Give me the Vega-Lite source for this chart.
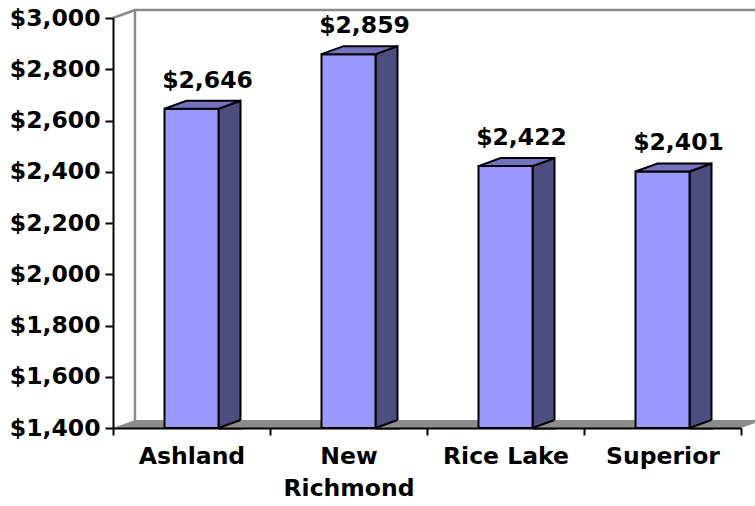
{
  "$schema": "https://vega.github.io/schema/vega-lite/v6.json",
  "width": 628,
  "height": 410,
  "autosize": "none",
  "padding": {"left": 113, "top": 18, "right": 14, "bottom": 78},
  "background": "white",
  "view": {"stroke": null},
  "config": {"font": "DejaVu Sans"},
  "data": {
    "values": [
      {"city": "Ashland", "cost": 2646},
      {"city": "New Richmond", "cost": 2859},
      {"city": "Rice Lake", "cost": 2422},
      {"city": "Superior", "cost": 2401}
    ]
  },
  "encoding": {
    "x": {
      "field": "city",
      "type": "nominal",
      "sort": null,
      "scale": {"paddingInner": 0, "paddingOuter": 0},
      "axis": {
        "title": null,
        "labelAngle": 0,
        "labelFont": "DejaVu Sans",
        "labelFontWeight": "bold",
        "labelFontSize": 23.5,
        "labelColor": "black",
        "labelPadding": 9,
        "labelLineHeight": 32,
        "labelExpr": "datum.label == 'New Richmond' ? ['New', 'Richmond'] : datum.label",
        "tickBand": "extent",
        "tickSize": 7,
        "tickColor": "black",
        "tickWidth": 2,
        "domainColor": "black",
        "domainWidth": 2,
        "zindex": 1
      }
    },
    "y": {
      "field": "cost",
      "type": "quantitative",
      "scale": {"domain": [1400, 3000], "zero": false, "nice": false},
      "axis": {
        "title": null,
        "values": [1400, 1600, 1800, 2000, 2200, 2400, 2600, 2800, 3000],
        "format": "$,d",
        "labelFont": "DejaVu Sans",
        "labelFontWeight": "bold",
        "labelFontSize": 23.5,
        "labelColor": "black",
        "labelPadding": 5,
        "labelOverlap": false,
        "tickSize": 8,
        "tickColor": "black",
        "tickWidth": 2,
        "domainColor": "black",
        "domainWidth": 2,
        "grid": false,
        "zindex": 1
      }
    }
  },
  "layer": [
    {
      "transform": [{"filter": "datum.city === 'Ashland'"}],
      "mark": {"type": "point", "shape": "M-78.5,0 L549.5,0 L571.5,-8 L-56.5,-8 Z", "size": 4, "filled": true, "fill": "#8c8c8c", "stroke": null, "opacity": 1},
      "encoding": {"y": {"datum": 1400, "type": "quantitative"}}
    },
    {
      "transform": [{"filter": "datum.city === 'Ashland'"}],
      "mark": {"type": "point", "shape": "M-78.5,0 L-56.5,-8 L700,-8 M-56.5,-8 L-56.5,402", "size": 4, "filled": false, "fill": null, "stroke": "#8a8a8a", "strokeWidth": 2.5, "opacity": 1},
      "encoding": {"y": {"datum": 3000, "type": "quantitative"}}
    },
    {
      "mark": {"type": "point", "shape": "M27,0 L49,-8 L49,1000 L27,1000 Z", "size": 4, "filled": true, "fill": "#4d4d80", "stroke": "black", "strokeWidth": 2, "opacity": 1, "clip": true}
    },
    {
      "mark": {"type": "point", "shape": "M27,0 L49,-8 L51,-8 L51,2 L27,2 Z", "size": 4, "filled": true, "fill": "#8c8c8c", "stroke": null, "opacity": 1},
      "encoding": {"y": {"datum": 1400, "type": "quantitative"}}
    },
    {
      "mark": {"type": "point", "shape": "M27,0 L49,-8", "size": 4, "filled": false, "fill": null, "stroke": "black", "strokeWidth": 2, "opacity": 1},
      "encoding": {"y": {"datum": 1400, "type": "quantitative"}}
    },
    {
      "mark": {"type": "bar", "size": 54, "fill": "#9999ff", "stroke": "black", "strokeWidth": 2, "opacity": 1},
      "encoding": {"y2": {"datum": 1400}}
    },
    {
      "mark": {"type": "point", "shape": "M-27,0 L27,0 L49,-8 L-5,-8 Z", "size": 4, "filled": true, "fill": "#7373c0", "stroke": "black", "strokeWidth": 2, "opacity": 1}
    },
    {
      "mark": {"type": "text", "font": "DejaVu Sans", "fontWeight": "bold", "fontSize": 23.5, "color": "black", "align": "center", "baseline": "alphabetic", "dx": 16, "dy": -21},
      "encoding": {"text": {"field": "cost", "type": "quantitative", "format": "$,d"}}
    }
  ]
}
